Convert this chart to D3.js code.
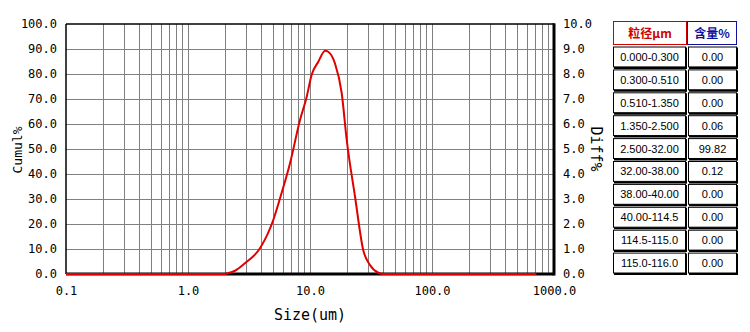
<!DOCTYPE html>
<html><head><meta charset="utf-8">
<script src="https://cdn.jsdelivr.net/npm/d3@7"></script>
<style>body{margin:0;background:#fff}svg{display:block}</style>
</head><body><svg id="c" width="750" height="332"></svg>
<script>
// ---- data ----
const sizes = [0.1, 2.0, 2.08, 2.43, 2.93, 3.89, 5.0, 5.68, 6.86, 8.28, 9.40, 10.3, 11.7, 13.3, 14.1, 16.0, 18.2, 20.0, 23.4, 27.3, 31.0, 36.3, 40.0, 716];
const diff  = [0, 0, 0.02, 0.13, 0.43, 1.03, 2.16, 3.03, 4.43, 6.16, 7.09, 7.96, 8.49, 8.93, 8.89, 8.43, 7.23, 5.36, 3.09, 0.96, 0.36, 0.05, 0, 0];
const xTicks = [0.1, 1, 10, 100, 1000];
const xTickLabels = ["0.1", "1.0", "10.0", "100.0", "1000.0"];
const cumTicks = [0, 10, 20, 30, 40, 50, 60, 70, 80, 90, 100];
const diffTicks = [0, 1, 2, 3, 4, 5, 6, 7, 8, 9, 10];
const tableHeader = ["粒径μm", "含量%"];
const ranges = ["0.000-0.300", "0.300-0.510", "0.510-1.350", "1.350-2.500", "2.500-32.00", "32.00-38.00", "38.00-40.00", "40.00-114.5", "114.5-115.0", "115.0-116.0"];
const contents = ["0.00", "0.00", "0.00", "0.06", "99.82", "0.12", "0.00", "0.00", "0.00", "0.00"];

// ---- layout ----
const svg = d3.select("#c");
const L = 66, R = 554, T = 24, B = 274;
const x = d3.scaleLog().domain([0.1, 1000]).range([L, R]);
const yC = d3.scaleLinear().domain([0, 100]).range([B, T]);
const yD = d3.scaleLinear().domain([0, 10]).range([B, T]);
const mono = "'DejaVu Sans Mono', monospace";

// grid
const g = svg.append("g");
const minor = [];
for (let d = 0.1; d < 1000; d *= 10) for (let k = 1; k <= 9; k++) minor.push(d * k);
g.selectAll("line.v").data(minor.filter(v => v > 0.1 + 1e-9)).enter().append("line")
  .attr("x1", d => Math.round(x(d)) + 0.5).attr("x2", d => Math.round(x(d)) + 0.5)
  .attr("y1", T).attr("y2", B).attr("stroke", "#808080").attr("stroke-width", 1);
g.selectAll("line.h").data(cumTicks.slice(1, -1)).enter().append("line")
  .attr("x1", L).attr("x2", R).attr("y1", d => Math.round(yC(d)) + 0.5).attr("y2", d => Math.round(yC(d)) + 0.5)
  .attr("stroke", "#808080").attr("stroke-width", 1);

// frame
svg.append("line").attr("x1", L).attr("x2", L).attr("y1", T).attr("y2", B).attr("stroke", "#000").attr("stroke-width", 1.5);
svg.append("line").attr("x1", L).attr("x2", R).attr("y1", T).attr("y2", T).attr("stroke", "#000").attr("stroke-width", 1.5);
svg.append("line").attr("x1", R).attr("x2", R).attr("y1", T - 0.7).attr("y2", B + 1.5).attr("stroke", "#000").attr("stroke-width", 3);
svg.append("line").attr("x1", L).attr("x2", R).attr("y1", B).attr("y2", B).attr("stroke", "#000").attr("stroke-width", 3);

// curve
const line = d3.line().x((d, i) => x(sizes[i])).y(d => yD(d)).curve(d3.curveMonotoneX);
svg.append("path").attr("d", line(diff)).attr("fill", "none").attr("stroke", "#e00000").attr("stroke-width", 2);

// axes labels
const xAxis = d3.axisBottom(x).tickValues(xTicks).tickFormat((d, i) => xTickLabels[i]).tickSize(0).tickPadding(12);
const gx = svg.append("g").attr("transform", `translate(0,${B})`).call(xAxis);
gx.select(".domain").remove();
gx.selectAll("text").attr("font-family", mono).attr("font-size", 12).attr("fill", "#000");

const yAxisL = d3.axisLeft(yC).tickValues(cumTicks).tickFormat(d3.format(".1f")).tickSize(0).tickPadding(9);
const gl = svg.append("g").attr("transform", `translate(${L},0)`).call(yAxisL);
gl.select(".domain").remove();
gl.selectAll("text").attr("font-family", mono).attr("font-size", 12).attr("fill", "#000");

const yAxisR = d3.axisRight(yD).tickValues(diffTicks).tickFormat(d3.format(".1f")).tickSize(0).tickPadding(9);
const gr = svg.append("g").attr("transform", `translate(${R},0)`).call(yAxisR);
gr.select(".domain").remove();
gr.selectAll("text").attr("font-family", mono).attr("font-size", 12).attr("fill", "#000");

svg.append("text").attr("x", 310).attr("y", 320).attr("text-anchor", "middle")
  .attr("font-family", mono).attr("font-size", 15).text("Size(um)");
svg.append("text").attr("transform", "translate(22,150) rotate(-90)").attr("text-anchor", "middle")
  .attr("font-family", mono).attr("font-size", 13).text("Cumul%");
svg.append("text").attr("transform", "translate(591,149) rotate(90)").attr("text-anchor", "middle")
  .attr("font-family", mono).attr("font-size", 15).text("Diff%");

// table
const tx0 = 613, tx1 = 687, tx2 = 737;
const tbl = svg.append("g");
tbl.append("rect").attr("x", tx0 + 0.5).attr("y", 21.5).attr("width", tx1 - tx0 - 1).attr("height", 23).attr("fill", "#fff").attr("stroke", "#d00000");
tbl.append("rect").attr("x", tx1 + 0.5).attr("y", 21.5).attr("width", tx2 - tx1 - 1).attr("height", 23).attr("fill", "#fff").attr("stroke", "#1010a0");
tbl.append("text").attr("x", (tx0 + tx1) / 2).attr("y", 37.5).attr("text-anchor", "middle")
  .attr("font-family", "'Noto Sans CJK SC'").attr("font-weight", "bold").attr("font-size", 12).attr("fill", "#d00000").text(tableHeader[0]);
tbl.append("text").attr("x", (tx1 + tx2) / 2).attr("y", 37.5).attr("text-anchor", "middle")
  .attr("font-family", "'Noto Sans CJK SC'").attr("font-weight", "bold").attr("font-size", 12).attr("fill", "#1010a0").text(tableHeader[1]);

const rowY = d3.scaleBand().domain(d3.range(ranges.length)).range([46.5, 275.5]).paddingInner(0);
ranges.forEach((r, i) => {
  const y0 = rowY(i), h = rowY.bandwidth() - 3;
  [[tx0, tx1 - 1, r], [tx1 + 1, tx2, contents[i]]].forEach(([a, b, t]) => {
    tbl.append("rect").attr("x", a + 0.5).attr("y", y0 + 0.5).attr("width", b - a - 1).attr("height", h).attr("fill", "#fff").attr("stroke", "#000");
    tbl.append("line").attr("x1", b - 0.5 + 0.5).attr("x2", b - 0.5 + 0.5).attr("y1", y0 + 1).attr("y2", y0 + h + 2.5).attr("stroke", "#000").attr("stroke-width", 2);
    tbl.append("line").attr("x1", a + 1).attr("x2", b + 0.5).attr("y1", y0 + h + 1.5).attr("y2", y0 + h + 1.5).attr("stroke", "#000").attr("stroke-width", 2);
    tbl.append("text").attr("x", (a + b) / 2).attr("y", y0 + h / 2 + 4.5).attr("text-anchor", "middle")
      .attr("font-family", "'Liberation Sans', Arial, sans-serif").attr("font-size", 11).attr("fill", "#000").text(t);
  });
});
</script></body></html>
